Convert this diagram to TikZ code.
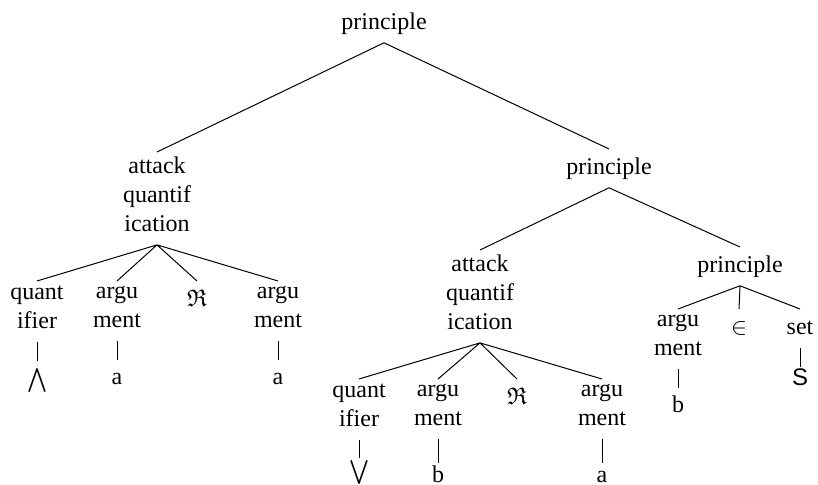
\documentclass[tikz,border=0pt]{standalone}
\usepackage{amssymb}
\usepackage{fontspec}
\setmainfont{Liberation Serif}
\newfontfamily\setfont{Liberation Sans}
\usetikzlibrary{positioning}
\tikzset{
tbase/.style={align=center,inner sep=0pt,outer xsep=0pt,outer ysep=2.5pt,anchor=north,
font=\fontsize{12}{14.4}\selectfont},
tnode/.style={tbase,execute at begin node=\strut,execute at end node=\strut},
leaf/.style={tnode,below=9.5pt of #1},
lastleaf/.style={tbase,outer ysep=0pt,execute at begin node=\strut,below=12pt of #1},
branch/.style={draw=black,line width=0.5pt}
}

\begin{document}
\begin{tikzpicture}[x=0.5pt,y=-0.5pt]
\useasboundingbox (0,0) rectangle (818,485);
\node[tnode] (root) at (384,4) {principle};
\node[tnode] (aqa) at (157,152) {attack\\quantif\\ication};
\node[tnode] (pb) at (609,149) {principle};
\node[tnode] (qa) at (37,281) {quant\\ifier};
\node[tnode] (arga) at (117,281) {argu\\ment};
\node[tnode] (rea) at (197,281) {$\mathfrak{R}$};
\node[tnode] (argb) at (278,281) {argu\\ment};
\node[leaf=qa] (wedge) {$\bigwedge$};
\node[leaf=arga] (la) {a};
\node[leaf=argb] (lb) {a};
\node[tnode] (aqb) at (480,250) {attack\\quantif\\ication};
\node[tnode] (pc) at (740,247) {principle};
\node[tnode] (qb) at (359,379) {quant\\ifier};
\node[tnode] (argc) at (438,379) {argu\\ment};
\node[tnode] (reb) at (517,379) {$\mathfrak{R}$};
\node[tnode] (argd) at (602,379) {argu\\ment};
\node[lastleaf=qb,below=9pt of qb] (vee) {$\bigvee$};
\node[lastleaf=argc] (lc) {b};
\node[lastleaf=argd] (ld) {a};
\node[tnode] (arge) at (678,309) {argu\\ment};
\node[tnode] (elem) at (739,309) {$\in$};
\node[tnode] (setn) at (800,309) {set};
\node[leaf=arge] (le) {b};
\node[tbase,outer ysep=1pt,below=9.7pt of setn] (ls) {\setfont S};
\draw[branch] (root.south) -- (aqa.north) (root.south) -- (pb.north);
\draw[branch] (aqa.south) -- (qa.north) (aqa.south) -- (arga.north)
  (aqa.south) -- (rea.north) (aqa.south) -- (argb.north);
\draw[branch] (qa) -- (wedge) (arga) -- (la) (argb) -- (lb);
\draw[branch] (pb.south) -- (aqb.north) (pb.south) -- (pc.north);
\draw[branch] (aqb.south) -- (qb.north) (aqb.south) -- (argc.north)
  (aqb.south) -- (reb.north) (aqb.south) -- (argd.north);
\draw[branch] (qb) -- (vee) (argc) -- (lc) (argd) -- (ld);
\draw[branch] (pc.south) -- (arge.north) (pc.south) -- (elem.north) (pc.south) -- (setn.north);
\draw[branch] (arge) -- (le) (setn) -- (ls);
\end{tikzpicture}
\end{document}
